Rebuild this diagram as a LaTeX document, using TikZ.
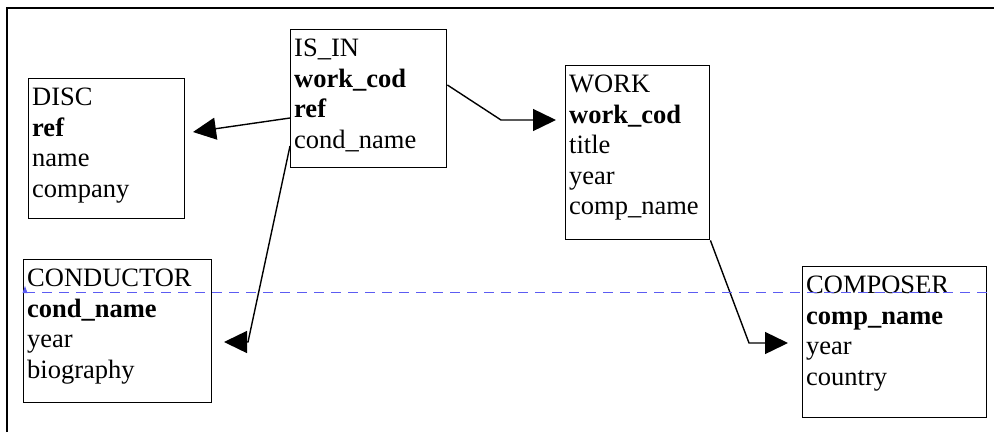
\documentclass[tikz,border=0pt]{standalone}
\usepackage{fontspec}
\setmainfont{Liberation Serif}
\usetikzlibrary{arrows.meta,calc}
\definecolor{guideblue}{rgb}{0.36,0.36,0.95}
% a table box: width, height, lines of the table
\newcommand\fieldlist[3]{\parbox[t][#2][t]{#1}{\raggedright\rule{0pt}{27pt}#3}}
\begin{document}
\begin{tikzpicture}[x=1pt,y=-1pt,
  entity/.style={draw, line width=1.4pt, anchor=north west, inner xsep=3.5pt,
    inner ysep=0pt, font=\fontsize{26.5}{30.5}\selectfont},
  link/.style={line width=1.4pt, -{Triangle[length=23pt,width=22pt]}},
  frame/.style={line width=1.8pt},
  guide/.style={draw=guideblue, line width=1pt, dash pattern=on 10pt off 7pt}]
\useasboundingbox (0,0) rectangle (994,432);

% open frame: left and top edges
\draw[frame] (7,432) -- (7,8) -- (994,8);

% tables
\node[entity] (disc) at (28,78)
  {\fieldlist{149pt}{140pt}{DISC\\\textbf{ref}\\name\\company}};
\node[entity] (isin) at (290,29)
  {\fieldlist{149pt}{138pt}{IS\_IN\\\textbf{work\_cod}\\\textbf{ref}\\cond\_name}};
\node[entity] (work) at (565,65)
  {\fieldlist{137pt}{174pt}{WORK\\\textbf{work\_cod}\\title\\year\\comp\_name}};
\node[entity] (cond) at (23,259)
  {\fieldlist{181pt}{143pt}{CONDUCTOR\\\textbf{cond\_name}\\year\\biography}};
\node[entity] (comp) at (802,266)
  {\fieldlist{177pt}{151pt}{COMPOSER\\\textbf{comp\_name}\\year\\country}};

% connector bends and arrow tips
\coordinate (tipdisc) at (193,132);
\coordinate (bendwork) at (501,120);
\coordinate (tipwork) at (556,120);
\coordinate (bendcond) at (248,342);
\coordinate (tipcond) at (224,342);
\coordinate (bendcomp) at (749,343);
\coordinate (tipcomp) at (788,343);

\draw[link] ($(isin.north west)+(0,89)$) -- (tipdisc);
\draw[link] ($(isin.north east)+(0,56)$) -- (bendwork) -- (tipwork);
\draw[link] ($(isin.north west)+(0,117)$) -- (bendcond) -- (tipcond);
\draw[link] (work.south east) -- (bendcomp) -- (tipcomp);

% dashed guide line
\draw[guide] (25,292) -- (994,292);
\fill[guideblue] (22.5,293) -- (25,286) -- (27.5,293) -- cycle;
\end{tikzpicture}
\end{document}
